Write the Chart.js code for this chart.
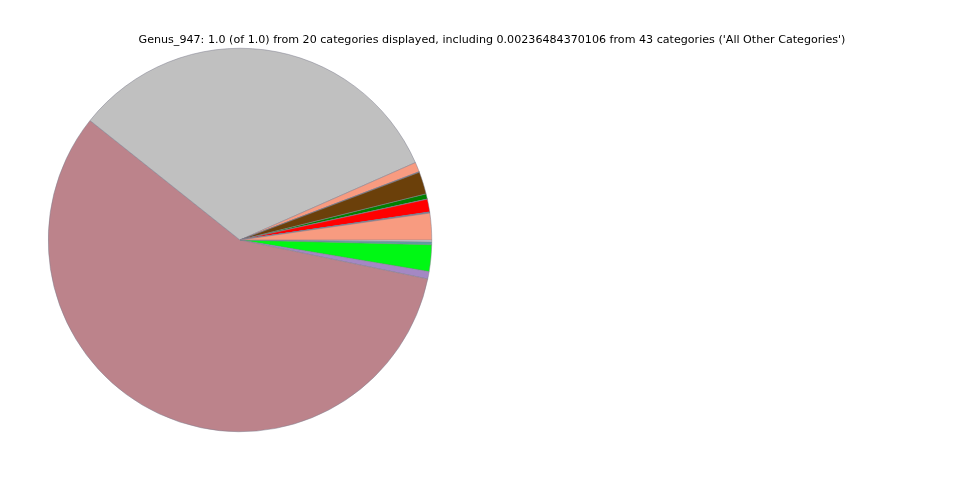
<!DOCTYPE html>
<html>
<head>
<meta charset="utf-8">
<script src="https://cdn.jsdelivr.net/npm/chart.js@4"></script>
<style>
  html, body { margin: 0; padding: 0; background: #fff; }
  #wrap { position: relative; width: 960px; height: 480px; }
  #title {
    position: absolute; left: 0; top: 33px; width: 984px; text-align: center;
    font-family: "DejaVu Sans", sans-serif; font-size: 11.12px; color: #000;
    white-space: nowrap;
  }
</style>
</head>
<body>
<div id="wrap">
  <canvas id="pie" width="960" height="480"></canvas>
  <div id="title">Genus_947: 1.0 (of 1.0) from 20 categories displayed, including 0.00236484370106 from 43 categories ('All Other Categories')</div>
</div>
<script>
"use strict";

// slices in clockwise order, starting at 3 o'clock
var categories = [
  "Genus A", "All Other Categories", "Genus B", "Genus C", "Genus D",
  "Genus E", "Genus F", "Genus G", "Genus H", "Genus I",
  "Genus J", "Genus K", "Genus L", "Genus M", "Genus N",
  "Genus O", "Genus P", "Genus Q", "Genus R", "Genus S"
];
var values = [
  0.0016, 0.00236, 0.0224, 0.0062, 0.574,
  0.3265, 0.0082, 0.0003, 0.0002, 0.0188,
  0.0044, 0.0001, 0.0108, 0.0002, 0.0001,
  0.0002, 0.0001, 0.0001, 0.0002, 0.0224
];
var slice_colors = [
  "#e6e6e6", "#5f9ea0", "#00f814", "#a488c4", "#bc838b",
  "#c0c0c0", "#f89b80", "#6f8fb0", "#9090a0", "#6b400a",
  "#008000", "#7a7a7a", "#ff0000", "#909090", "#a0a0a0",
  "#808080", "#b0b0b0", "#909090", "#8a8aa0", "#f89b80"
];

new Chart(document.getElementById("pie"), {
  type: "pie",
  data: {
    labels: categories,
    datasets: [{
      data: values,
      backgroundColor: slice_colors,
      borderColor: "#7f7f8f",
      borderWidth: 0.5
    }]
  },
  options: {
    responsive: false,
    animation: false,
    rotation: 90,
    layout: { padding: { left: 48, right: 528, top: 48, bottom: 48 } },
    plugins: {
      legend: { display: false },
      tooltip: { enabled: false },
      title: { display: false }
    }
  }
});
</script>
</body>
</html>
